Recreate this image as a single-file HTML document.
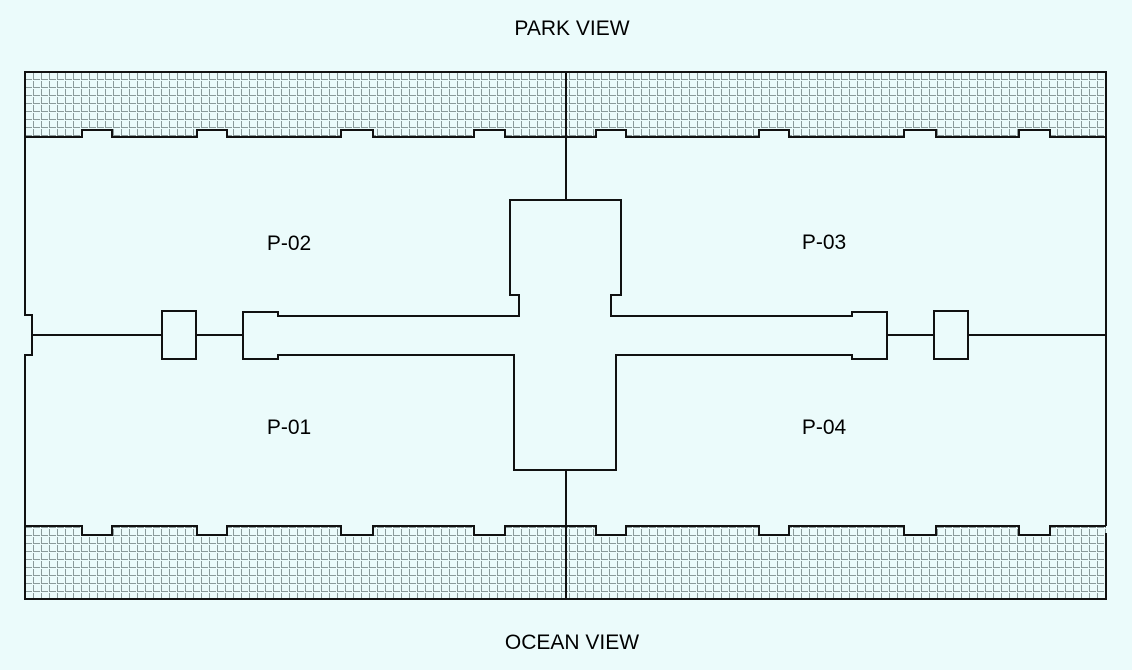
<!DOCTYPE html>
<html><head><style>
html,body{margin:0;padding:0;background:#ebfbfb;}
svg{display:block}
text{font-family:"Liberation Sans",sans-serif;font-size:21px;fill:#000}
</style></head><body>
<svg width="1132" height="670" viewBox="0 0 1132 670" xmlns="http://www.w3.org/2000/svg">
<defs>
<pattern id="g" x="25" y="72" width="8" height="8" patternUnits="userSpaceOnUse">
<rect width="8" height="8" fill="#ebfbfb"/>
<path d="M0.5 1V8M0 7.5H7" stroke="#8a9a9a" stroke-width="1"/>
</pattern>
</defs>
<polygon fill="url(#g)" points="25,72 1106,72 1106,137 1050,137 1050,130 1019,130 1019,137 936,137 936,130 904,130 904,137 789,137 789,130 759,130 759,137 626,137 626,130 596,130 596,137 505,137 505,130 474,130 474,137 373,137 373,130 341,130 341,137 227,137 227,130 197,130 197,137 112,137 112,130 82,130 82,137 25,137"/>
<polygon fill="url(#g)" points="25,599 1106,599 1106,526 1050,526 1050,535 1019,535 1019,526 936,526 936,535 904,535 904,526 789,526 789,535 759,535 759,526 626,526 626,535 596,535 596,526 505,526 505,535 474,535 474,526 373,526 373,535 341,535 341,526 227,526 227,535 197,535 197,526 112,526 112,535 82,535 82,526 25,526"/>
<g fill="none" stroke="#111" stroke-width="2">
<polyline points="25,315 25,72 1106,72 1106,526"/>
<polyline points="1106,533 1106,599 25,599 25,355"/>
<polyline points="25,137 82,137 82,130 112,130 112,137 197,137 197,130 227,130 227,137 341,137 341,130 373,130 373,137 474,137 474,130 505,130 505,137 596,137 596,130 626,130 626,137 759,137 759,130 789,130 789,137 904,137 904,130 936,130 936,137 1019,137 1019,130 1050,130 1050,137 1106,137"/>
<polyline points="25,526 82,526 82,535 112,535 112,526 197,526 197,535 227,535 227,526 341,526 341,535 373,535 373,526 474,526 474,535 505,535 505,526 596,526 596,535 626,535 626,526 759,526 759,535 789,535 789,526 904,526 904,535 936,535 936,526 1019,526 1019,535 1050,535 1050,526 1106,526"/>
<polyline points="24,315 32,315 32,355 24,355"/>
<line x1="32" y1="335" x2="162" y2="335"/>
<rect x="162" y="311" width="34" height="48"/>
<line x1="196" y1="335" x2="243" y2="335"/>
<polygon points="243,312 278,312 278,316 519,316 519,295 510,295 510,200 621,200 621,295 611,295 611,316 852,316 852,312 887,312 887,359 852,359 852,355 616,355 616,470 514,470 514,355 278,355 278,359 243,359"/>
<line x1="887" y1="335" x2="934" y2="335"/>
<rect x="934" y="311" width="34" height="48"/>
<line x1="968" y1="335" x2="1106" y2="335"/>
<line x1="566" y1="72" x2="566" y2="200"/>
<line x1="566" y1="470" x2="566" y2="599"/>
</g>
<text x="572" y="35" text-anchor="middle">PARK VIEW</text>
<text x="572" y="649" text-anchor="middle">OCEAN VIEW</text>
<text x="289" y="250" text-anchor="middle">P-02</text>
<text x="824" y="249" text-anchor="middle">P-03</text>
<text x="289" y="434" text-anchor="middle">P-01</text>
<text x="824" y="434" text-anchor="middle">P-04</text>
</svg>
</body></html>
